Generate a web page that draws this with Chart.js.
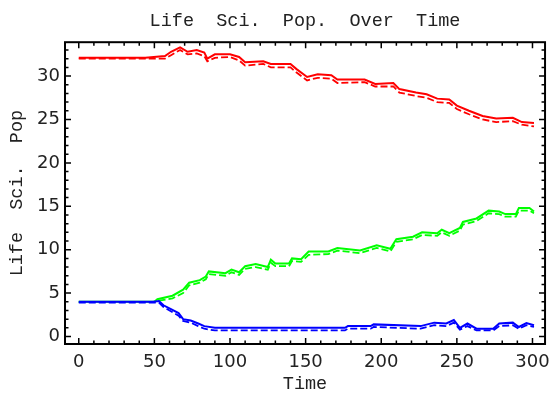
<!DOCTYPE html>
<html>
<head>
<meta charset="utf-8">
<title>Life Sci. Pop. Over Time</title>
<script src="https://cdn.jsdelivr.net/npm/chart.js@4/dist/chart.umd.min.js"></script>
<style>
    html, body { margin: 0; padding: 0; background: #fff; }
    #popChart { display: block; }
</style>
</head>
<body>
<canvas id="popChart" width="558" height="395"></canvas>
<script>
// values (time, population)
const redTimes = [0, 44, 57, 61, 67, 72, 78, 83, 85, 90, 100, 106, 110, 122, 127, 140, 144, 151, 158, 167, 171, 189, 196, 208, 212, 223, 230, 237, 245, 250, 258, 267, 276, 287, 293, 301];
const redUpper = [32.1, 32.1, 32.3, 32.8, 33.3, 32.8, 33.0, 32.7, 32.0, 32.5, 32.5, 32.2, 31.6, 31.7, 31.4, 31.4, 30.8, 29.9, 30.2, 30.1, 29.6, 29.6, 29.1, 29.2, 28.5, 28.1, 27.9, 27.4, 27.3, 26.6, 26.0, 25.4, 25.1, 25.2, 24.7, 24.6];
const redLower = [32.0, 32.0, 32.0, 32.4, 33.0, 32.5, 32.6, 32.3, 31.7, 32.1, 32.2, 31.8, 31.2, 31.4, 31.0, 31.0, 30.4, 29.5, 29.8, 29.7, 29.2, 29.3, 28.8, 28.8, 28.1, 27.7, 27.5, 27.0, 26.9, 26.2, 25.6, 25.0, 24.7, 24.8, 24.4, 24.2];

const greenTimes = [0, 50, 52, 62, 69, 73, 80, 84, 86, 97, 101, 106, 110, 117, 125, 127, 130, 139, 141, 147, 152, 165, 171, 186, 197, 206, 210, 221, 227, 237, 240, 245, 252, 254, 263, 271, 278, 282, 289, 291, 298, 301];
const greenUpper = [4.0, 4.0, 4.3, 4.7, 5.4, 6.2, 6.5, 6.9, 7.5, 7.3, 7.7, 7.4, 8.1, 8.35, 8.0, 8.85, 8.4, 8.4, 9.0, 8.9, 9.8, 9.8, 10.2, 9.9, 10.5, 10.1, 11.2, 11.5, 12.0, 11.9, 12.3, 11.9, 12.5, 13.2, 13.6, 14.5, 14.4, 14.1, 14.1, 14.8, 14.8, 14.4];
const greenLower = [4.0, 4.0, 4.1, 4.4, 5.0, 5.9, 6.2, 6.6, 7.2, 7.0, 7.4, 7.1, 7.8, 8.0, 7.7, 8.5, 8.1, 8.1, 8.7, 8.6, 9.4, 9.5, 9.9, 9.6, 10.2, 9.8, 10.9, 11.2, 11.7, 11.6, 12.0, 11.6, 12.2, 12.9, 13.3, 14.2, 14.1, 13.8, 13.8, 14.5, 14.5, 14.2];

const blueTimes = [0, 49, 53, 56, 60, 66, 69, 74, 79, 83, 90, 176, 178, 193, 195, 226, 235, 243, 248, 252, 257, 263, 274, 278, 287, 291, 296, 301];
const blueUpper = [4.0, 4.0, 4.1, 3.6, 3.25, 2.7, 2.0, 1.85, 1.5, 1.2, 1.0, 1.0, 1.2, 1.2, 1.4, 1.2, 1.6, 1.5, 1.9, 1.0, 1.5, 0.9, 0.9, 1.5, 1.6, 1.1, 1.55, 1.3];
const blueLower = [3.9, 3.9, 3.9, 3.4, 3.0, 2.4, 1.8, 1.6, 1.2, 0.9, 0.7, 0.7, 0.9, 0.9, 1.1, 0.9, 1.3, 1.2, 1.6, 0.8, 1.2, 0.7, 0.7, 1.2, 1.3, 0.9, 1.3, 1.1];

const xTickValues = [0, 50, 100, 150, 200, 250, 300];
const yTickValues = [0, 5, 10, 15, 20, 25, 30];

document.addEventListener('DOMContentLoaded', function() {

    function toPoints(times, values) {
        return times.map((t, i) => ({ x: t, y: values[i] }));
    }

    function trace(times, values, color, dashed) {
        return {
            data: toPoints(times, values),
            borderColor: color,
            borderWidth: dashed ? 1.8 : 2,
            borderDash: dashed ? [7, 3] : [],
            pointRadius: 0,
            tension: 0,
            fill: false
        };
    }

    // Mathematica style frame with inward ticks on all four sides
    const framePlugin = {
        id: 'frame',
        afterDraw(chart) {
            const ctx = chart.ctx;
            const area = chart.chartArea;
            const xs = chart.scales.x;
            const ys = chart.scales.y;
            ctx.save();
            ctx.strokeStyle = '#000';
            ctx.lineWidth = 1.5;
            ctx.beginPath();
            for (let v = 0; v <= 300; v += 10) {
                const px = xs.getPixelForValue(v);
                const len = v % 50 === 0 ? 6 : 3.5;
                ctx.moveTo(px, area.bottom); ctx.lineTo(px, area.bottom - len);
                ctx.moveTo(px, area.top); ctx.lineTo(px, area.top + len);
            }
            for (let v = 0; v <= 33; v += 1) {
                const py = ys.getPixelForValue(v);
                const len = v % 5 === 0 ? 6 : 3.5;
                ctx.moveTo(area.left, py); ctx.lineTo(area.left + len, py);
                ctx.moveTo(area.right, py); ctx.lineTo(area.right - len, py);
            }
            ctx.stroke();
            ctx.lineWidth = 2;
            ctx.strokeRect(area.left, area.top, area.right - area.left, area.bottom - area.top);
            ctx.restore();
        }
    };

    const ctx = document.getElementById('popChart').getContext('2d');
    new Chart(ctx, {
        type: 'line',
        data: {
            datasets: [
                trace(blueTimes, blueUpper, '#0000ff', false),
                trace(blueTimes, blueLower, '#0000ff', true),
                trace(greenTimes, greenUpper, '#00ff00', false),
                trace(greenTimes, greenLower, '#00ff00', true),
                trace(redTimes, redUpper, '#ff0000', false),
                trace(redTimes, redLower, '#ff0000', true)
            ]
        },
        options: {
            responsive: false,
            animation: false,
            layout: { padding: { left: 0, right: 5, top: 0, bottom: 0 } },
            plugins: {
                legend: { display: false },
                tooltip: { enabled: false },
                title: {
                    display: true,
                    fullSize: false,
                    text: 'Life  Sci.  Pop.  Over  Time',
                    color: '#222',
                    font: { family: 'Liberation Mono', size: 18.5, weight: 'normal' },
                    padding: { top: 10, bottom: 10 }
                }
            },
            scales: {
                x: {
                    type: 'linear',
                    min: -9.1,
                    max: 308.3,
                    grid: { display: false, drawTicks: false },
                    border: { display: false },
                    afterBuildTicks: scale => { scale.ticks = xTickValues.map(v => ({ value: v })); },
                    afterFit: scale => { scale.height = 51; },
                    ticks: {
                        color: '#222',
                        padding: 8,
                        maxRotation: 0,
                        font: { family: 'DejaVu Sans', size: 18 }
                    },
                    title: {
                        display: true,
                        text: 'Time',
                        color: '#222',
                        font: { family: 'Liberation Mono', size: 18.5 },
                        padding: { top: 0, bottom: 0 }
                    }
                },
                y: {
                    min: -0.86,
                    max: 33.9,
                    grid: { display: false, drawTicks: false },
                    border: { display: false },
                    afterBuildTicks: scale => { scale.ticks = yTickValues.map(v => ({ value: v })); },
                    afterFit: scale => { scale.width = 65; },
                    ticks: {
                        color: '#222',
                        padding: 5,
                        font: { family: 'DejaVu Sans', size: 18 }
                    },
                    title: {
                        display: true,
                        text: 'Life  Sci.  Pop',
                        color: '#222',
                        font: { family: 'Liberation Mono', size: 18.5 },
                        padding: { top: 6, bottom: 0 }
                    }
                }
            }
        },
        plugins: [framePlugin]
    });
});
</script>
</body>
</html>
